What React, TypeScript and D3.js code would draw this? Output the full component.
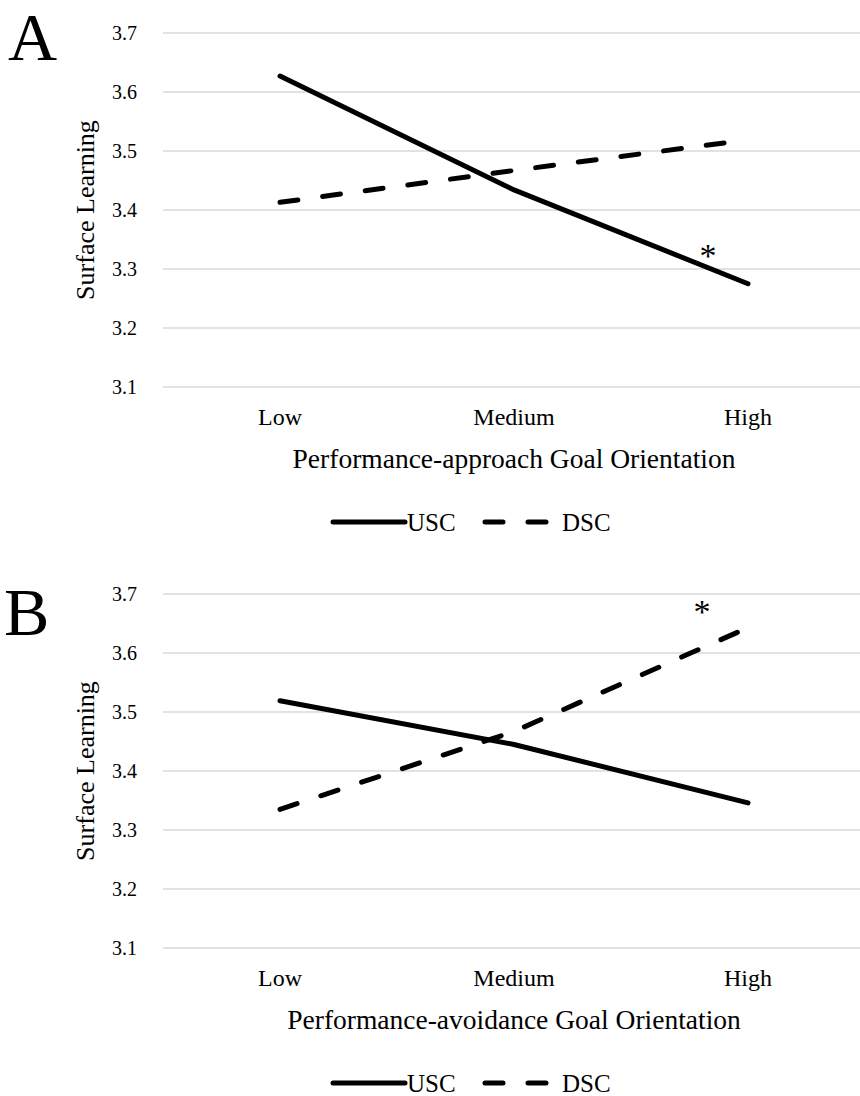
import React from "react";
import * as d3 from "d3";

const categories = ["Low", "Medium", "High"];
const yTicks = [3.1, 3.2, 3.3, 3.4, 3.5, 3.6, 3.7];
const seriesNames = ["USC", "DSC"];

const panelALabel = "A";
const panelAXTitle = "Performance-approach Goal Orientation";
const panelAUSC = [3.627, 3.434, 3.275];
const panelADSC = [3.413, 3.467, 3.519];

const panelBLabel = "B";
const panelBXTitle = "Performance-avoidance Goal Orientation";
const panelBUSC = [3.519, 3.445, 3.346];
const panelBDSC = [3.335, 3.467, 3.643];

const yTitle = "Surface Learning";
const FONT = "Liberation Serif, Tinos, Times New Roman, Times, DejaVu Serif, serif";

type PanelProps = {
  top: number;
  letter: string;
  letterX: number;
  letterY: number;
  xTitle: string;
  usc: number[];
  dsc: number[];
  star: { series: number; dx: number; dy: number };
};

function Panel({ top, letter, letterX, letterY, xTitle, usc, dsc, star }: PanelProps) {
  const x = d3.scaleBand<string>().domain(categories).range([163, 865]);
  const y = d3.scaleLinear().domain([3.1, 3.7]).range([top + 354, top]);
  const cx = (c: string) => (x(c) as number) + x.bandwidth() / 2;
  const line = d3
    .line<number>()
    .x((_, i) => cx(categories[i]))
    .y((v) => y(v));
  const starVals = star.series === 0 ? usc : dsc;
  const hx = cx(categories[2]);
  const hy = y(starVals[2]);
  const legY = top + 489;
  const txt = { fontFamily: FONT, fill: "#000" } as const;
  return (
    <g>
      <text x={letterX} y={letterY} style={{ fontFamily: FONT }} fontSize={68} fill="#000">
        {letter}
      </text>
      {yTicks.map((t) => (
        <g key={t}>
          <line x1={163} x2={860} y1={y(t)} y2={y(t)} stroke="#d9d9d9" strokeWidth={1.5} />
          <text x={137} y={y(t)} dy="0.35em" textAnchor="end" style={txt} fontSize={20}>
            {t.toFixed(1)}
          </text>
        </g>
      ))}
      <text
        transform={`translate(94, ${top + 177}) rotate(-90)`}
        textAnchor="middle"
        style={txt}
        fontSize={26}
      >
        {yTitle}
      </text>
      {categories.map((c) => (
        <text key={c} x={cx(c)} y={top + 384} dy="0.35em" textAnchor="middle" style={txt} fontSize={24}>
          {c}
        </text>
      ))}
      <text x={cx(categories[1])} y={top + 425} dy="0.35em" textAnchor="middle" style={txt} fontSize={27.5}>
        {xTitle}
      </text>
      <path d={line(usc) || ""} fill="none" stroke="#000" strokeWidth={5} strokeLinecap="round" strokeLinejoin="round" />
      <path
        d={line(dsc) || ""}
        fill="none"
        stroke="#000"
        strokeWidth={5}
        strokeLinecap="round"
        strokeDasharray="18 25"
      />
      <text x={hx + star.dx} y={hy + star.dy} dy="0.7em" textAnchor="middle" style={txt} fontSize={34}>
        *
      </text>
      <line x1={333} x2={405} y1={legY} y2={legY} stroke="#000" strokeWidth={5} strokeLinecap="round" />
      <text x={407} y={legY} dy="0.35em" style={txt} fontSize={25}>
        {seriesNames[0]}
      </text>
      <line
        x1={485}
        x2={552}
        y1={legY}
        y2={legY}
        stroke="#000"
        strokeWidth={5}
        strokeLinecap="round"
        strokeDasharray="18 25"
      />
      <text x={562} y={legY} dy="0.35em" style={txt} fontSize={25}>
        {seriesNames[1]}
      </text>
    </g>
  );
}

export default function App() {
  return (
    <svg width={860} height={1096} style={{ position: "absolute", left: 0, top: 0, background: "#fff" }}>
      <rect width={860} height={1096} fill="#fff" />
      <Panel
        top={33}
        letter={panelALabel}
        letterX={8}
        letterY={60}
        xTitle={panelAXTitle}
        usc={panelAUSC}
        dsc={panelADSC}
        star={{ series: 0, dx: -40, dy: -41 }}
      />
      <Panel
        top={594}
        letter={panelBLabel}
        letterX={4}
        letterY={635}
        xTitle={panelBXTitle}
        usc={panelBUSC}
        dsc={panelBDSC}
        star={{ series: 1, dx: -46, dy: -28 }}
      />
    </svg>
  );
}
